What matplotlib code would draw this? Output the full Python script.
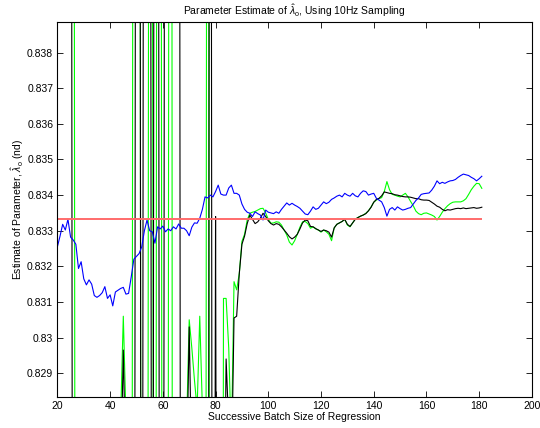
import matplotlib
matplotlib.use("Agg")
import matplotlib.pyplot as plt

plt.rcParams["font.family"] = ["Liberation Sans", "DejaVu Sans"]
plt.rcParams["mathtext.fontset"] = "custom"
plt.rcParams["mathtext.rm"] = "Liberation Sans"
plt.rcParams["mathtext.it"] = "Liberation Sans:italic"

# successive batch sizes used for the regression
batch = list(range(20, 182))

# true parameter value
true_value = 0.83333

# blue estimate
est_blue = [
    0.83255, 0.83285, 0.83318, 0.83302, 0.83332, 0.83282, 0.83274, 0.83262, 0.83194, 0.83213,
    0.83165, 0.83148, 0.83162, 0.83150, 0.83118, 0.83113, 0.83118, 0.83126, 0.83143, 0.83110,
    0.83120, 0.83089, 0.83128, 0.83133, 0.83138, 0.83141, 0.83122, 0.83124, 0.83170, 0.83220,
    0.83228, 0.83236, 0.83255, 0.83300, 0.83330, 0.83300, 0.83297, 0.83265, 0.83311, 0.83305,
    0.83313, 0.83297, 0.83305, 0.83300, 0.83311, 0.83305, 0.83319, 0.83307, 0.83307, 0.83300,
    0.83286, 0.83310, 0.83322, 0.83321, 0.83335, 0.83360, 0.83395, 0.83392, 0.83400, 0.83395,
    0.83410, 0.83428, 0.83403, 0.83400, 0.83400, 0.83420, 0.83428, 0.83405, 0.83405, 0.83400,
    0.83375, 0.83360, 0.83352, 0.83349, 0.83340, 0.83353, 0.83348, 0.83344, 0.83330, 0.83358,
    0.83352, 0.83350, 0.83348, 0.83353, 0.83349, 0.83360, 0.83369, 0.83378, 0.83372, 0.83377,
    0.83372, 0.83368, 0.83363, 0.83355, 0.83347, 0.83345, 0.83355, 0.83367, 0.83360, 0.83363,
    0.83372, 0.83381, 0.83376, 0.83380, 0.83388, 0.83392, 0.83397, 0.83400, 0.83395, 0.83405,
    0.83400, 0.83397, 0.83405, 0.83398, 0.83395, 0.83405, 0.83412, 0.83410, 0.83400, 0.83403,
    0.83405, 0.83391, 0.83386, 0.83381, 0.83365, 0.83341, 0.83360, 0.83365, 0.83358, 0.83367,
    0.83362, 0.83358, 0.83360, 0.83363, 0.83365, 0.83375, 0.83385, 0.83392, 0.83402, 0.83404,
    0.83405, 0.83406, 0.83414, 0.83425, 0.83440, 0.83432, 0.83436, 0.83433, 0.83437, 0.83440,
    0.83441, 0.83444, 0.83450, 0.83455, 0.83459, 0.83457, 0.83455, 0.83450, 0.83446, 0.83440,
    0.83446, 0.83453,
]

# green estimate (blows up for small batches)
est_green = [
    0.87, 0.87, 0.87, 0.87, 0.87, 0.87, 0.87, 0.80, 0.80, 0.80,
    0.80, 0.80, 0.80, 0.80, 0.80, 0.80, 0.80, 0.80, 0.80, 0.80,
    0.80, 0.80, 0.80, 0.80, 0.8278, 0.8306, 0.8278, 0.80, 0.80, 0.87,
    0.87, 0.87, 0.80, 0.80, 0.80, 0.87, 0.845, 0.79, 0.87, 0.87,
    0.80, 0.80, 0.822, 0.90, 0.77, 0.80, 0.80, 0.80, 0.80, 0.8275,
    0.8305, 0.8297, 0.8288, 0.8280, 0.8306, 0.8280, 0.80, 0.87, 0.80, 0.80,
    0.80, 0.80, 0.78, 0.8311, 0.8311, 0.8297, 0.8270, 0.83157, 0.83134, 0.83180,
    0.83270, 0.83290, 0.83330, 0.83349, 0.83352, 0.83354, 0.83358, 0.83362, 0.83363, 0.83350,
    0.83332, 0.83321, 0.83322, 0.83325, 0.83324, 0.83316, 0.83302, 0.83288, 0.83268, 0.83260,
    0.83272, 0.83290, 0.83310, 0.83325, 0.83326, 0.83320, 0.83307, 0.83311, 0.83305, 0.83302,
    0.83296, 0.83302, 0.83297, 0.83290, 0.83272, 0.83308, 0.83318, 0.83322, 0.83326, 0.83332,
    0.83316, 0.83311, 0.83322, 0.83333, 0.83337, 0.83341, 0.83344, 0.83349, 0.83356, 0.83367,
    0.83380, 0.83386, 0.83390, 0.83393, 0.83410, 0.83438, 0.83415, 0.83402, 0.83400, 0.83397,
    0.83395, 0.83400, 0.83405, 0.83395, 0.83382, 0.83370, 0.83355, 0.83348, 0.83345, 0.83349,
    0.83350, 0.83347, 0.83344, 0.83340, 0.83330, 0.83340, 0.83352, 0.83362, 0.83370, 0.83376,
    0.83380, 0.83381, 0.83381, 0.83381, 0.83384, 0.83390, 0.83402, 0.83415, 0.83425, 0.83433,
    0.83432, 0.83419,
]

# black estimate (blows up for small batches)
est_black = [
    0.87, 0.87, 0.87, 0.87, 0.87, 0.87, 0.80, 0.80, 0.80, 0.80,
    0.80, 0.80, 0.80, 0.80, 0.80, 0.80, 0.80, 0.80, 0.80, 0.80,
    0.80, 0.80, 0.80, 0.80, 0.826, 0.82965, 0.826, 0.80, 0.80, 0.80,
    0.87, 0.87, 0.80, 0.87, 0.87, 0.87, 0.80, 0.87, 0.87, 0.80,
    0.80, 0.87, 0.87, 0.87, 0.87, 0.87, 0.87, 0.80, 0.80, 0.826,
    0.8303, 0.826, 0.80, 0.80, 0.80, 0.80, 0.80, 0.80, 0.87, 0.80,
    0.8334, 0.80, 0.80, 0.822, 0.8294, 0.8275, 0.826, 0.83055, 0.83060, 0.83180,
    0.83262, 0.83285, 0.83320, 0.83344, 0.83332, 0.83320, 0.83325, 0.83335, 0.83349, 0.83340,
    0.83328, 0.83320, 0.83316, 0.83320, 0.83318, 0.83311, 0.83302, 0.83293, 0.83283, 0.83277,
    0.83282, 0.83290, 0.83305, 0.83322, 0.83330, 0.83328, 0.83312, 0.83311, 0.83306, 0.83302,
    0.83298, 0.83302, 0.83300, 0.83296, 0.83282, 0.83308, 0.83318, 0.83322, 0.83326, 0.83332,
    0.83318, 0.83312, 0.83322, 0.83332, 0.83337, 0.83341, 0.83344, 0.83348, 0.83356, 0.83366,
    0.83380, 0.83388, 0.83391, 0.83398, 0.83409, 0.83407, 0.83405, 0.83404, 0.83401, 0.83400,
    0.83398, 0.83396, 0.83395, 0.83395, 0.83394, 0.83392, 0.83390, 0.83390, 0.83387, 0.83386,
    0.83386, 0.83385, 0.83380, 0.83375, 0.83369, 0.83366, 0.83360, 0.83356, 0.83359, 0.83358,
    0.83360, 0.83362, 0.83363, 0.83362, 0.83364, 0.83362, 0.83363, 0.83364, 0.83365, 0.83363,
    0.83364, 0.83366,
]

x_ticks = [20, 40, 60, 80, 100, 120, 140, 160, 180, 200]
y_ticks = [0.829, 0.830, 0.831, 0.832, 0.833, 0.834, 0.835, 0.836, 0.837, 0.838]
y_tick_labels = ["0.829", "0.83", "0.831", "0.832", "0.833", "0.834", "0.835", "0.836", "0.837", "0.838"]

fig = plt.figure(figsize=(5.4, 4.28), dpi=100)
ax = fig.add_axes([0.1063, 0.0731, 0.8787, 0.8755])

ax.plot(batch, est_green, color="#00ff00", lw=0.8)
ax.plot(batch, est_black, color="black", lw=0.8)
ax.plot(batch, est_blue, color="#0000ff", lw=0.8)
ax.hlines(true_value, batch[0], batch[-1], color="#ff6b6b", lw=1.4)

ax.set_xlim(20, 200)
ax.set_ylim(0.82834, 0.83886)
ax.set_xticks(x_ticks)
ax.set_yticks(y_ticks)
ax.set_yticklabels(y_tick_labels)
ax.tick_params(direction="in", top=True, right=True, length=4, width=0.6, labelsize=7.5, pad=3)
for s in ax.spines.values():
    s.set_linewidth(0.8)

ax.set_title(r"Parameter Estimate of $\hat{\lambda}_{\rm o}$, Using 10Hz Sampling", fontsize=7.5, pad=5)
ax.set_xlabel("Successive Batch Size of Regression", fontsize=7.5, labelpad=1)
ax.set_ylabel(r"Estimate of Parameter, $\hat{\lambda}_{\rm o}$ (nd)", fontsize=7.5, labelpad=0.5)

fig.savefig("out.png", dpi=100)
